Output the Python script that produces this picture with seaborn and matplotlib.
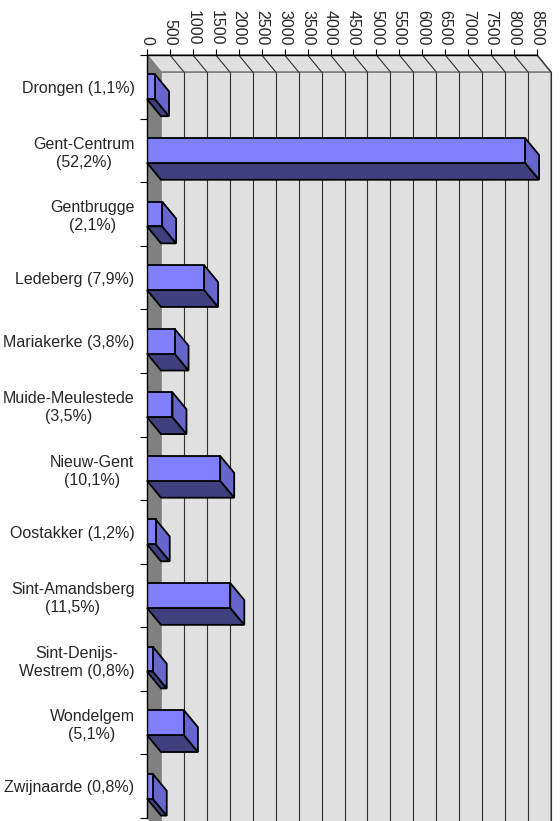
import numpy as np
import pandas as pd
import matplotlib
matplotlib.use("Agg")
import matplotlib.pyplot as plt
from matplotlib.patches import Polygon, Rectangle
import seaborn as sns

# wijken van Gent, aantal + aandeel
wijken = ["Drongen (1,1%)", "Gent-Centrum\n(52,2%)", "Gentbrugge\n(2,1%)",
          "Ledeberg (7,9%)", "Mariakerke (3,8%)", "Muide-Meulestede\n(3,5%)",
          "Nieuw-Gent\n(10,1%)", "Oostakker (1,2%)", "Sint-Amandsberg\n(11,5%)",
          "Sint-Denijs-\nWestrem (0,8%)", "Wondelgem\n(5,1%)", "Zwijnaarde (0,8%)"]
aantallen = [175, 8240, 330, 1245, 600, 555, 1595, 190, 1815, 125, 805, 125]
xticks = list(range(0, 8501, 500))

sns.set_theme(style="white")
plt.rcParams['font.family'] = ['Liberation Sans', 'DejaVu Sans']

W, H = 560, 821
fig = plt.figure(figsize=(W / 100, H / 100), dpi=100)
left_px, right_px, top_px, bot_px = 147, 537, 55, 818
ax = fig.add_axes([left_px / W, 1 - bot_px / H, (right_px - left_px) / W, (bot_px - top_px) / H])

xmax = 8500
n = len(wijken)
band_px = (bot_px - top_px) / n
DX = 14 * xmax / (right_px - left_px)   # depth in data units
DY = 17 / band_px
bar_w = 0.39

df = pd.DataFrame({"wijk": wijken, "aantal": aantallen})

# walls
top, bot = -0.5, n - 0.5
back = Rectangle((DX, top + DY), xmax, bot - top, facecolor="#E0E0E0",
                 edgecolor="#808080", lw=1.2, zorder=0, clip_on=False)
ax.add_patch(back)
ceil = Polygon([(0, top), (xmax, top), (xmax + DX, top + DY), (DX, top + DY)],
               closed=True, facecolor="#E0E0E0", edgecolor="#808080", lw=1.2,
               zorder=0.5, clip_on=False)
ax.add_patch(ceil)
side = Polygon([(0, top), (DX, top + DY), (DX, bot + DY), (0, bot)], closed=True,
               facecolor="#808080", edgecolor="none", zorder=0.6, clip_on=False)
ax.add_patch(side)

for v in xticks[1:]:
    ax.plot([v + DX, v + DX], [top + DY, bot + DY], color="#303030", lw=0.8,
            zorder=1, clip_on=False)
    ax.plot([v, v + DX], [top, top + DY], color="#303030", lw=0.8,
            zorder=1, clip_on=False)

sns.barplot(data=df, x="aantal", y="wijk", orient="h", width=bar_w,
            color="#8080FF", saturation=1, edgecolor="black", linewidth=1.3,
            ax=ax, zorder=3)

for i, v in enumerate(aantallen):
    y0, y1 = i - bar_w / 2, i + bar_w / 2
    bottom_face = Polygon([(0, y1), (v, y1), (v + DX, y1 + DY), (DX, y1 + DY)],
                          closed=True, facecolor="#40407F", edgecolor="black",
                          lw=1.3, zorder=2, clip_on=False)
    side_face = Polygon([(v, y0), (v + DX, y0 + DY), (v + DX, y1 + DY), (v, y1)],
                        closed=True, facecolor="#6666CC", edgecolor="black",
                        lw=1.3, zorder=2.5, clip_on=False)
    ax.add_patch(bottom_face)
    ax.add_patch(side_face)

ax.set_xlim(0, xmax)
ax.set_ylim(bot, top)
for s in ax.spines.values():
    s.set_visible(False)
ax.plot([0, xmax], [top, top], color="black", lw=1.0, zorder=4, clip_on=False)
ax.plot([0, 0], [top, bot], color="black", lw=1.0, zorder=4, clip_on=False)

ax.xaxis.tick_top()
ax.set_xticks(xticks)
ax.set_xticklabels([str(t) for t in xticks], rotation=-90, fontsize=11.5)
ax.tick_params(axis="x", which="major", direction="out", length=4, width=0.8,
               color="black", pad=3, top=True, bottom=False)

ax.set_yticks(range(n))
ax.set_yticklabels(wijken, fontsize=11.5, multialignment="center", linespacing=1.25)
ax.tick_params(axis="y", which="major", length=0, pad=9)
ax.set_yticks(np.arange(-0.5, n, 1.0), minor=True)
ax.tick_params(axis="y", which="minor", direction="out", length=5, width=0.8,
               color="black", left=True)
ax.set_xlabel("")
ax.set_ylabel("")

fig.savefig("out.png", dpi=100)
